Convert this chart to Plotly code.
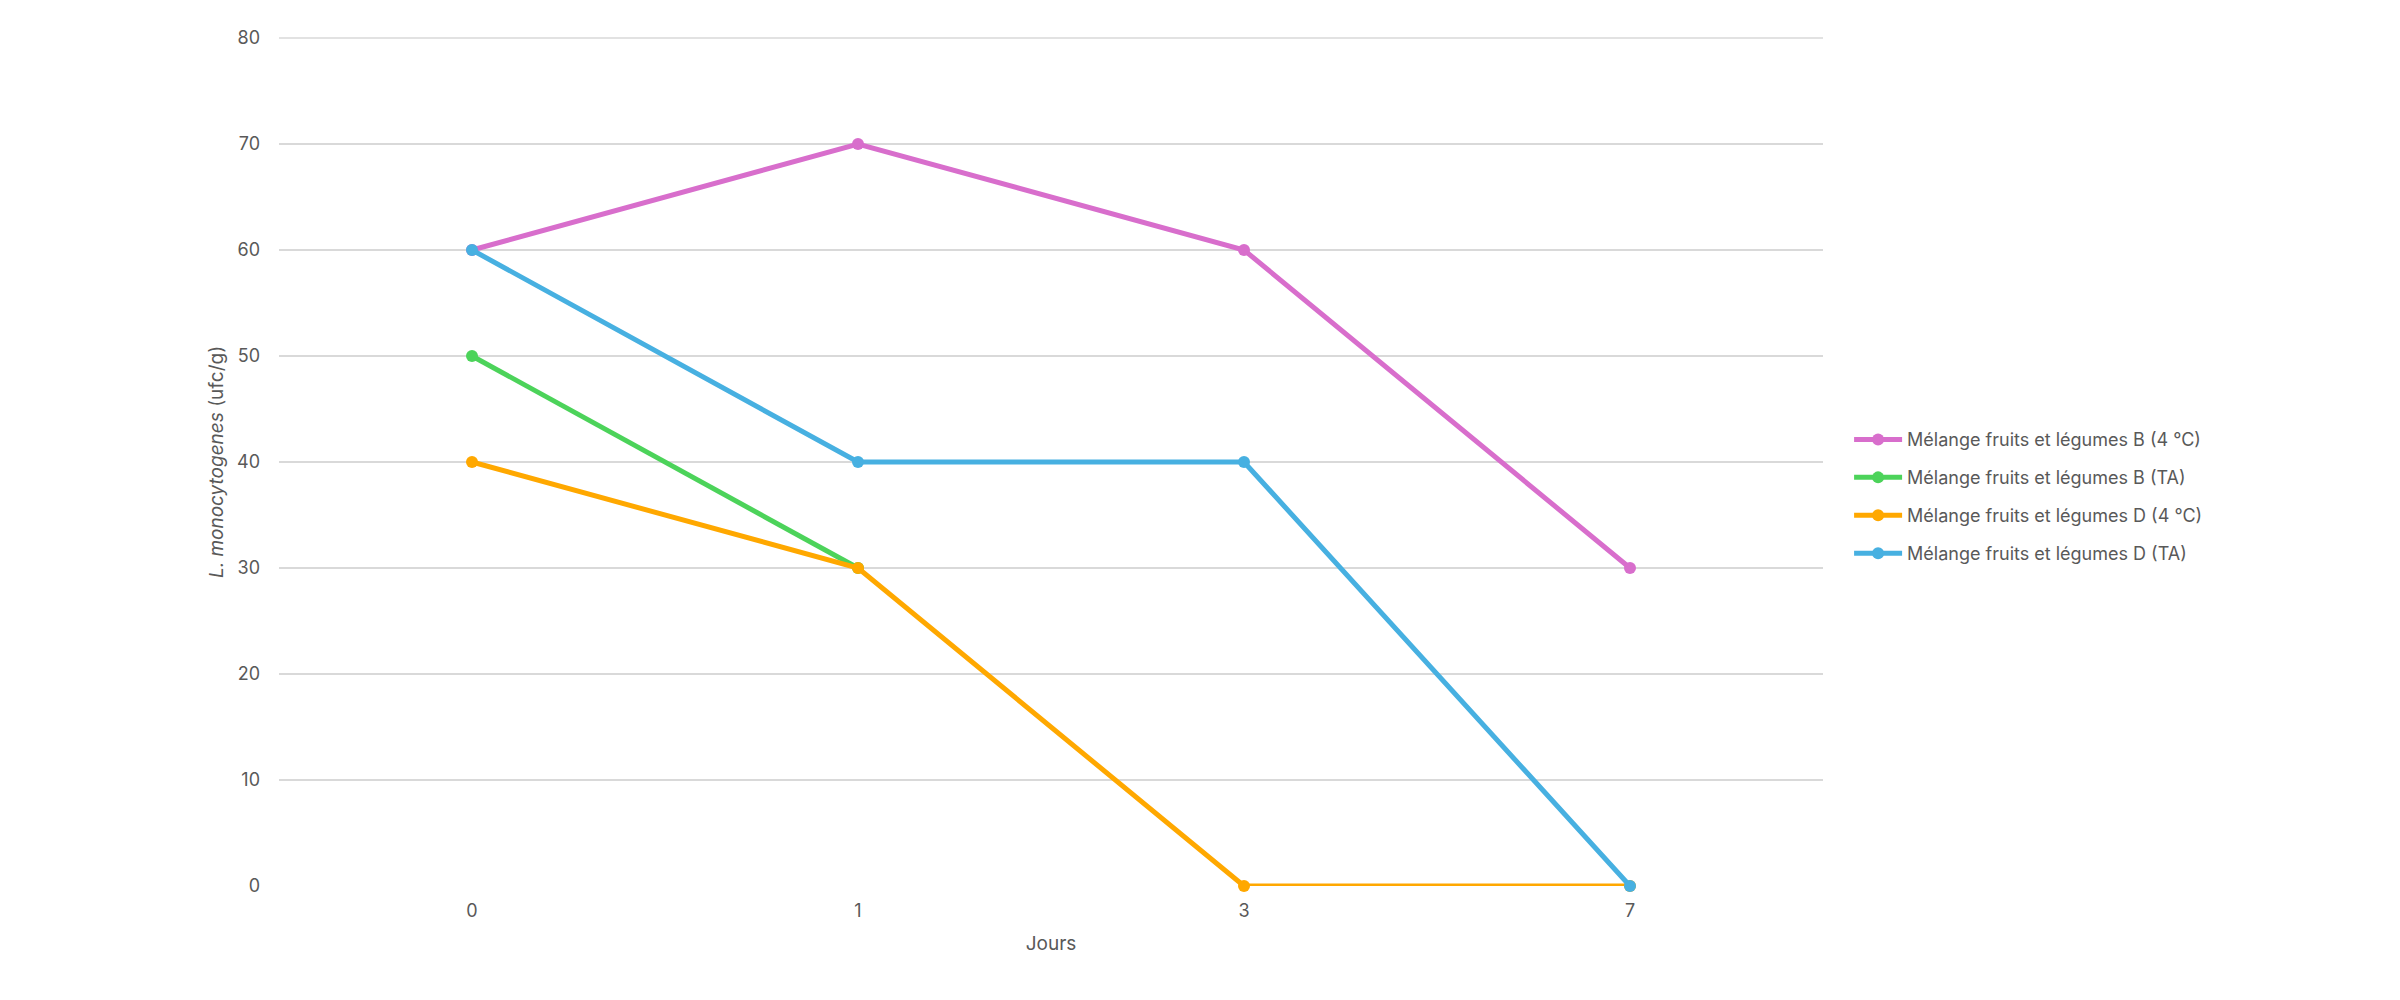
import plotly.graph_objects as go

jours = ["0", "1", "3", "7"]
series_names = [
    "Mélange fruits et légumes B (4 °C)",
    "Mélange fruits et légumes B (TA)",
    "Mélange fruits et légumes D (4 °C)",
    "Mélange fruits et légumes D (TA)",
]
b_4c = [60, 70, 60, 30]
b_ta = [50, 30, None, None]
d_4c = [40, 30, 0, 0]
d_ta = [60, 40, 40, 0]
colors = ["#D86ECC", "#4CD35A", "#FFA800", "#47B0E1"]
y_ticks = [0, 10, 20, 30, 40, 50, 60, 70, 80]

fig = go.Figure()
for i, (name, vals, col) in enumerate(zip(series_names, [b_4c, b_ta, d_4c, d_ta], colors)):
    fig.add_trace(go.Scatter(
        x=jours, y=vals, name=name, mode="lines+markers",
        legendgroup=f"g{i}",
        line=dict(color=col, width=5),
        marker=dict(color=col, size=12),
        cliponaxis=False,
    ))

# top gridline (Plotly omits the gridline at the range edge)
fig.add_shape(type="line", xref="paper", yref="paper", x0=0, x1=1, y0=1, y1=1,
              line=dict(color="#D9D9D9", width=1.5), layer="below")

font_fam = "Inter, Noto Sans, sans-serif"
fig.update_layout(
    width=2400, height=1000,
    paper_bgcolor="white", plot_bgcolor="white",
    margin=dict(l=271, r=585, t=30, b=122),
    font=dict(family=font_fam, size=18, color="#595959"),
    xaxis=dict(
        type="category", range=[-0.5, 3.5],
        showgrid=False, zeroline=False, showline=False,
        ticks="", ticklabelstandoff=12,
        tickfont=dict(size=18, color="#595959"),
        title=dict(text="Jours", font=dict(size=19, color="#595959"), standoff=16),
    ),
    yaxis=dict(
        range=[0, 80], tickvals=y_ticks,
        showgrid=True, gridcolor="#D9D9D9", gridwidth=1.5,
        zeroline=False, showline=False, ticks="",
        ticklabelstandoff=18,
        tickfont=dict(size=18, color="#595959"),
        title=dict(text="<i>L. monocytogenes</i> (ufc/g)", font=dict(size=19, color="#595959"), standoff=8),
    ),
    legend=dict(
        x=1.0169, xanchor="left", xref="paper", y=0.459, yanchor="middle",
        font=dict(size=18, color="#595959"),
        traceorder="grouped", tracegroupgap=11.5, itemwidth=48,
        bgcolor="rgba(0,0,0,0)",
    ),
    showlegend=True,
)
fig.write_html("out.html")
